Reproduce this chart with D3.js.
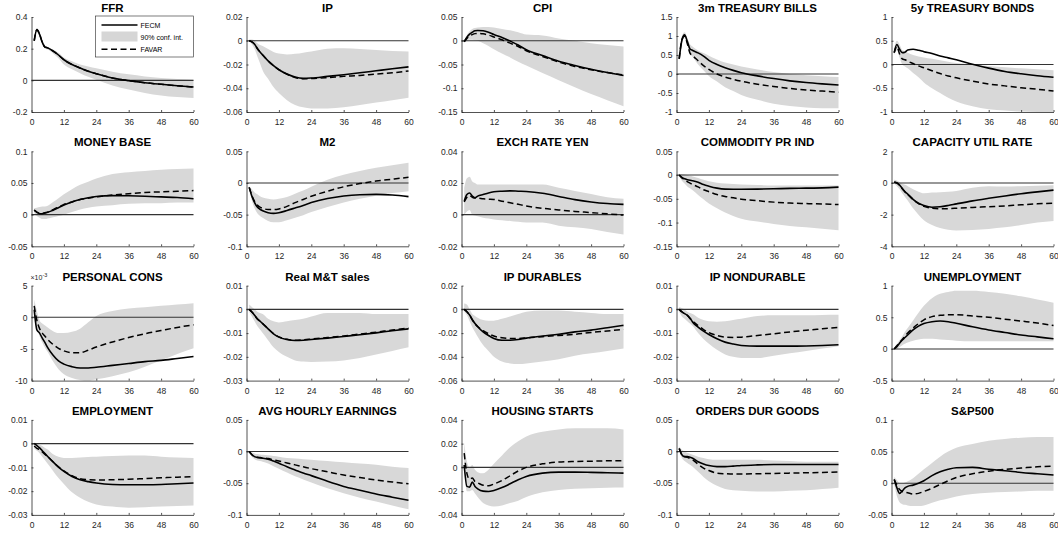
<!DOCTYPE html>
<html>
<head>
<meta charset="utf-8">
<script src="https://cdn.jsdelivr.net/npm/d3@7"></script>
<style>
  body { margin: 0; background: #fff; }
  svg text { font-family: "Liberation Sans", Arial, sans-serif; }
</style>
</head>
<body>
<div id="vis"></div>
<script>
const months = [1, 2, 3, 4, 5, 6, 8, 10, 12, 15, 18, 21, 24, 30, 36, 42, 48, 54, 60];
const xTicks = [0, 12, 24, 36, 48, 60];

const titles = ['FFR', 'IP', 'CPI', '3m TREASURY BILLS', '5y TREASURY BONDS',
    'MONEY BASE', 'M2', 'EXCH RATE YEN', 'COMMODITY PR IND', 'CAPACITY UTIL RATE',
    'PERSONAL CONS', 'Real M&T sales', 'IP DURABLES', 'IP NONDURABLE', 'UNEMPLOYMENT',
    'EMPLOYMENT', 'AVG HOURLY EARNINGS', 'HOUSING STARTS', 'ORDERS DUR GOODS', 'S&P500'];

const yTicks = [
    [-0.2, 0, 0.2, 0.4], [-0.06, -0.04, -0.02, 0, 0.02], [-0.15, -0.1, -0.05, 0, 0.05], [-1, -0.5, 0, 0.5, 1, 1.5], [-1, -0.5, 0, 0.5, 1],
    [-0.05, 0, 0.05, 0.1], [-0.1, -0.05, 0, 0.05], [-0.02, 0, 0.02, 0.04], [-0.15, -0.1, -0.05, 0, 0.05], [-4, -2, 0, 2],
    [-10, -5, 0, 5], [-0.03, -0.02, -0.01, 0, 0.01], [-0.06, -0.04, -0.02, 0, 0.02], [-0.03, -0.02, -0.01, 0, 0.01], [-0.5, 0, 0.5, 1],
    [-0.03, -0.02, -0.01, 0, 0.01], [-0.1, -0.05, 0, 0.05], [-0.04, -0.02, 0, 0.02, 0.04], [-0.1, -0.05, 0, 0.05], [-0.05, 0, 0.05, 0.1]
];

// axis multiplier exponent (PERSONAL CONS is shown in units of 10^-3)
const tickExp = [0, 0, 0, 0, 0, 0, 0, 0, 0, 0, -3, 0, 0, 0, 0, 0, 0, 0, 0, 0];

const fecm = [
    [0.25, 0.32, 0.29, 0.24, 0.21, 0.205, 0.185, 0.16, 0.13, 0.10, 0.078, 0.058, 0.042, 0.015, -0.002, -0.015, -0.025, -0.034, -0.042],
    [0, -0.001, -0.003, -0.0065, -0.0094, -0.012, -0.017, -0.021, -0.0244, -0.028, -0.0306, -0.0317, -0.0314, -0.030, -0.0286, -0.027, -0.0253, -0.0236, -0.022],
    [-0.002, 0.0076, 0.014, 0.018, 0.021, 0.0215, 0.021, 0.018, 0.013, 0.007, -0.0007, -0.009, -0.019, -0.031, -0.043, -0.052, -0.060, -0.067, -0.073],
    [0.40, 0.89, 1.03, 0.86, 0.66, 0.62, 0.555, 0.47, 0.36, 0.25, 0.165, 0.095, 0.035, -0.05, -0.12, -0.18, -0.225, -0.26, -0.29],
    [0.25, 0.42, 0.32, 0.25, 0.26, 0.305, 0.32, 0.30, 0.27, 0.23, 0.18, 0.14, 0.10, 0.007, -0.076, -0.146, -0.195, -0.236, -0.27],
    [0.007, 0.0036, 0.0015, 0.0015, 0.0026, 0.0036, 0.007, 0.011, 0.015, 0.02, 0.024, 0.0267, 0.0287, 0.030, 0.0297, 0.029, 0.028, 0.027, 0.025],
    [-0.007, -0.021, -0.031, -0.038, -0.0415, -0.044, -0.047, -0.048, -0.047, -0.0435, -0.0395, -0.0354, -0.031, -0.0246, -0.0205, -0.0185, -0.018, -0.019, -0.0215],
    [0.0086, 0.0127, 0.0137, 0.0117, 0.0107, 0.0117, 0.0127, 0.0137, 0.0144, 0.0148, 0.015, 0.0148, 0.0146, 0.0135, 0.0115, 0.0095, 0.008, 0.007, 0.0065],
    [0, -0.005, -0.008, -0.0097, -0.011, -0.012, -0.015, -0.020, -0.0235, -0.0276, -0.0297, -0.030, -0.030, -0.0297, -0.029, -0.028, -0.0276, -0.027, -0.0255],
    [0.06, 0, -0.14, -0.35, -0.56, -0.7, -1.03, -1.28, -1.42, -1.53, -1.5, -1.42, -1.32, -1.13, -0.97, -0.82, -0.68, -0.56, -0.45],
    [1.2, -2.0, -2.5, -3.3, -4.0, -4.8, -6.0, -6.9, -7.4, -7.8, -8.0, -8.0, -7.9, -7.6, -7.3, -7.0, -6.8, -6.5, -6.2],
    [0, -0.0011, -0.0025, -0.004, -0.005, -0.006, -0.0082, -0.0103, -0.0117, -0.0127, -0.0131, -0.013, -0.0127, -0.0121, -0.0114, -0.0107, -0.0099, -0.009, -0.0082],
    [0, -0.002, -0.0048, -0.0085, -0.012, -0.0146, -0.019, -0.022, -0.0245, -0.026, -0.026, -0.0254, -0.0242, -0.0225, -0.021, -0.019, -0.0175, -0.0155, -0.0135],
    [0, -0.0011, -0.0018, -0.0025, -0.0037, -0.0054, -0.0075, -0.0092, -0.0106, -0.0124, -0.0138, -0.0146, -0.0152, -0.0155, -0.0155, -0.0155, -0.0154, -0.0152, -0.0149],
    [0, 0.037, 0.09, 0.14, 0.18, 0.22, 0.30, 0.36, 0.40, 0.43, 0.44, 0.43, 0.405, 0.35, 0.30, 0.26, 0.22, 0.19, 0.16],
    [0, -0.0008, -0.0018, -0.003, -0.0042, -0.0054, -0.0077, -0.0099, -0.0117, -0.0138, -0.0152, -0.016, -0.0166, -0.0172, -0.0173, -0.0173, -0.0172, -0.0169, -0.0166],
    [0, -0.005, -0.008, -0.0095, -0.010, -0.0105, -0.012, -0.015, -0.0185, -0.024, -0.029, -0.034, -0.038, -0.047, -0.055, -0.061, -0.067, -0.072, -0.077],
    [0.002, -0.016, -0.0166, -0.0124, -0.016, -0.018, -0.02, -0.0203, -0.0194, -0.017, -0.0138, -0.0104, -0.0076, -0.0048, -0.004, -0.004, -0.0042, -0.0045, -0.0048],
    [0.005, -0.005, -0.008, -0.008, -0.009, -0.0105, -0.016, -0.0195, -0.022, -0.0237, -0.0237, -0.023, -0.022, -0.021, -0.0205, -0.0205, -0.0205, -0.0205, -0.0205],
    [0.006, -0.007, -0.016, -0.012, -0.0075, -0.005, -0.003, 0.0, 0.004, 0.012, 0.018, 0.022, 0.0245, 0.025, 0.022, 0.0197, 0.017, 0.015, 0.013]
];

const favar = [
    [0.25, 0.32, 0.29, 0.24, 0.21, 0.205, 0.185, 0.16, 0.13, 0.10, 0.078, 0.058, 0.042, 0.015, -0.002, -0.015, -0.025, -0.034, -0.042],
    [0, -0.001, -0.003, -0.0065, -0.0094, -0.012, -0.017, -0.021, -0.0244, -0.0282, -0.031, -0.032, -0.0318, -0.031, -0.030, -0.0292, -0.028, -0.027, -0.0255],
    [-0.002, 0.005, 0.010, 0.013, 0.015, 0.0155, 0.0145, 0.012, 0.008, 0.002, -0.005, -0.012, -0.021, -0.033, -0.045, -0.054, -0.061, -0.067, -0.072],
    [0.40, 0.90, 1.0, 0.8, 0.55, 0.48, 0.35, 0.22, 0.12, 0.0, -0.08, -0.14, -0.19, -0.27, -0.33, -0.38, -0.42, -0.45, -0.48],
    [0.25, 0.38, 0.22, 0.12, 0.10, 0.07, 0.02, -0.03, -0.07, -0.13, -0.19, -0.24, -0.28, -0.35, -0.41, -0.45, -0.49, -0.52, -0.56],
    [0.007, 0.004, 0.002, 0.002, 0.003, 0.004, 0.008, 0.012, 0.016, 0.020, 0.024, 0.026, 0.028, 0.031, 0.033, 0.035, 0.036, 0.037, 0.038],
    [-0.007, -0.02, -0.029, -0.035, -0.038, -0.040, -0.042, -0.042, -0.041, -0.037, -0.031, -0.026, -0.021, -0.013, -0.006, -0.001, 0.003, 0.006, 0.009],
    [0.008, 0.011, 0.012, 0.011, 0.0105, 0.0105, 0.010, 0.0098, 0.0096, 0.0085, 0.0075, 0.0065, 0.0055, 0.004, 0.003, 0.002, 0.0013, 0.0005, -0.0003],
    [0, -0.006, -0.010, -0.014, -0.017, -0.020, -0.025, -0.031, -0.035, -0.041, -0.045, -0.048, -0.051, -0.054, -0.057, -0.059, -0.060, -0.061, -0.062],
    [0.05, 0, -0.15, -0.37, -0.56, -0.72, -1.05, -1.3, -1.48, -1.6, -1.63, -1.62, -1.6, -1.55, -1.5, -1.45, -1.38, -1.32, -1.27],
    [1.8, -0.5, -1.8, -2.5, -3.0, -3.5, -4.3, -4.9, -5.3, -5.6, -5.6, -5.2, -4.7, -3.9, -3.2, -2.6, -2.1, -1.6, -1.2],
    [0, -0.0011, -0.0025, -0.004, -0.005, -0.006, -0.0082, -0.0102, -0.0116, -0.0126, -0.013, -0.0128, -0.0125, -0.0119, -0.0112, -0.0104, -0.0096, -0.0087, -0.0079],
    [0, -0.002, -0.005, -0.009, -0.012, -0.0145, -0.018, -0.0205, -0.0225, -0.024, -0.0245, -0.0245, -0.024, -0.023, -0.022, -0.021, -0.0195, -0.0182, -0.017],
    [0, -0.001, -0.0018, -0.0025, -0.0038, -0.005, -0.0068, -0.0085, -0.0098, -0.011, -0.0117, -0.0118, -0.0117, -0.011, -0.0103, -0.0095, -0.0088, -0.0082, -0.0076],
    [0, 0.05, 0.1, 0.15, 0.2, 0.25, 0.33, 0.40, 0.46, 0.51, 0.53, 0.54, 0.54, 0.52, 0.50, 0.47, 0.44, 0.41, 0.37],
    [-0.001, -0.002, -0.0025, -0.0035, -0.0045, -0.0055, -0.0077, -0.0098, -0.0115, -0.0135, -0.0148, -0.0152, -0.0153, -0.0152, -0.015, -0.0147, -0.0144, -0.0141, -0.0139],
    [0, -0.005, -0.008, -0.009, -0.0095, -0.010, -0.011, -0.013, -0.015, -0.018, -0.021, -0.024, -0.027, -0.032, -0.037, -0.041, -0.045, -0.048, -0.051],
    [0.012, -0.005, -0.01, -0.009, -0.012, -0.013, -0.015, -0.0155, -0.014, -0.011, -0.007, -0.003, 0.0, 0.003, 0.0045, 0.005, 0.0052, 0.0055, 0.0055],
    [0.005, -0.005, -0.008, -0.009, -0.011, -0.013, -0.02, -0.026, -0.03, -0.034, -0.035, -0.0355, -0.0355, -0.035, -0.0345, -0.034, -0.0335, -0.033, -0.032],
    [0.006, -0.003, -0.01, -0.013, -0.014, -0.015, -0.017, -0.016, -0.013, -0.008, -0.002, 0.004, 0.009, 0.015, 0.019, 0.022, 0.024, 0.026, 0.027]
];

const bandHigh = [
    [0.26, 0.33, 0.30, 0.25, 0.22, 0.21, 0.195, 0.175, 0.145, 0.12, 0.10, 0.088, 0.076, 0.055, 0.038, 0.025, 0.015, 0.008, 0.004],
    [0.001, 0.001, 0.0, -0.002, -0.0035, -0.0045, -0.007, -0.0094, -0.0108, -0.0115, -0.011, -0.010, -0.009, -0.0067, -0.0064, -0.007, -0.0078, -0.0086, -0.009],
    [0.0, 0.012, 0.02, 0.025, 0.027, 0.028, 0.029, 0.029, 0.028, 0.025, 0.022, 0.018, 0.013, 0.011, 0.005, 0.0, -0.005, -0.009, -0.012],
    [0.45, 1.0, 1.1, 0.95, 0.78, 0.72, 0.62, 0.55, 0.48, 0.38, 0.3, 0.25, 0.2, 0.12, 0.05, 0.0, -0.03, -0.06, -0.08],
    [0.35, 0.5, 0.42, 0.3, 0.28, 0.25, 0.2, 0.17, 0.15, 0.12, 0.09, 0.06, 0.03, 0.0, -0.03, -0.06, -0.08, -0.1, -0.12],
    [0.01, 0.011, 0.012, 0.013, 0.013, 0.014, 0.02, 0.026, 0.032, 0.040, 0.047, 0.052, 0.057, 0.064, 0.067, 0.069, 0.071, 0.072, 0.073],
    [-0.005, -0.01, -0.015, -0.018, -0.021, -0.023, -0.025, -0.026, -0.025, -0.022, -0.017, -0.012, -0.006, 0.005, 0.013, 0.019, 0.024, 0.028, 0.032],
    [0.017, 0.023, 0.024, 0.021, 0.020, 0.019, 0.019, 0.019, 0.019, 0.019, 0.019, 0.019, 0.019, 0.019, 0.017, 0.015, 0.013, 0.011, 0.010],
    [0.003, 0.002, 0.001, 0.0, -0.0015, -0.003, -0.006, -0.010, -0.013, -0.016, -0.018, -0.019, -0.02, -0.021, -0.022, -0.022, -0.022, -0.022, -0.022],
    [0.2, 0.15, 0.05, -0.05, -0.12, -0.2, -0.4, -0.55, -0.65, -0.6, -0.58, -0.55, -0.5, -0.3, -0.2, -0.22, -0.2, -0.17, -0.15],
    [2.8, 1.0, -0.5, -1.0, -1.3, -1.6, -2.2, -2.5, -2.5, -2.3, -1.8, -0.8, 0.2, 1.0, 1.4, 1.6, 1.8, 2.0, 2.2],
    [0.002, 0.001, 0.0, -0.001, -0.0015, -0.002, -0.004, -0.005, -0.0055, -0.005, -0.0045, -0.004, -0.003, -0.0015, -0.0015, -0.0015, -0.002, -0.002, -0.002],
    [0.005, 0.004, 0.0, -0.004, -0.0055, -0.007, -0.009, -0.0095, -0.0095, -0.008, -0.006, -0.004, -0.002, -0.001, -0.001, -0.002, -0.003, -0.004, -0.004],
    [0.001, 0.0005, 0.0, -0.001, -0.0015, -0.002, -0.0035, -0.0045, -0.005, -0.0052, -0.005, -0.0045, -0.004, -0.0028, -0.0025, -0.0025, -0.0025, -0.0024, -0.0023],
    [0.02, 0.08, 0.14, 0.2, 0.27, 0.33, 0.45, 0.57, 0.68, 0.8, 0.87, 0.9, 0.92, 0.92, 0.9, 0.87, 0.83, 0.78, 0.73],
    [0.0005, 0.0, -0.0005, -0.001, -0.0018, -0.0025, -0.0045, -0.0055, -0.006, -0.006, -0.0058, -0.0056, -0.0055, -0.0052, -0.005, -0.005, -0.0055, -0.0058, -0.006],
    [0.001, -0.001, -0.003, -0.004, -0.0045, -0.005, -0.006, -0.007, -0.008, -0.010, -0.011, -0.012, -0.013, -0.015, -0.017, -0.019, -0.021, -0.024, -0.026],
    [0.021, 0.005, 0.0, 0.002, -0.002, -0.004, -0.005, -0.002, 0.003, 0.01, 0.017, 0.022, 0.026, 0.03, 0.032, 0.033, 0.033, 0.033, 0.032],
    [0.008, 0.003, 0.0, -0.002, -0.0035, -0.005, -0.008, -0.01, -0.012, -0.013, -0.013, -0.013, -0.013, -0.013, -0.014, -0.015, -0.016, -0.016, -0.016],
    [0.01, 0.005, 0.0, 0.0, 0.001, 0.003, 0.008, 0.015, 0.022, 0.032, 0.042, 0.05, 0.056, 0.062, 0.067, 0.07, 0.072, 0.073, 0.073]
];

const bandLow = [
    [0.24, 0.31, 0.28, 0.23, 0.20, 0.195, 0.17, 0.14, 0.10, 0.07, 0.045, 0.022, 0.004, -0.032, -0.058, -0.08, -0.096, -0.106, -0.112],
    [0, -0.003, -0.007, -0.013, -0.019, -0.025, -0.032, -0.039, -0.044, -0.05, -0.054, -0.056, -0.057, -0.057, -0.056, -0.054, -0.052, -0.050, -0.048],
    [-0.003, 0.0, 0.002, 0.002, 0.001, 0.0, -0.005, -0.011, -0.018, -0.027, -0.035, -0.044, -0.052, -0.068, -0.083, -0.098, -0.112, -0.125, -0.138],
    [0.35, 0.8, 0.95, 0.75, 0.52, 0.45, 0.25, 0.1, -0.05, -0.2, -0.35, -0.45, -0.55, -0.68, -0.78, -0.84, -0.88, -0.9, -0.9],
    [0.2, 0.3, 0.15, 0.0, -0.04, -0.08, -0.18, -0.27, -0.38, -0.5, -0.6, -0.7, -0.78, -0.88, -0.94, -0.97, -0.99, -1.0, -1.0],
    [0.003, -0.002, -0.005, -0.007, -0.007, -0.006, -0.004, -0.002, 0.0, 0.004, 0.008, 0.011, 0.013, 0.015, 0.017, 0.018, 0.018, 0.019, 0.019],
    [-0.008, -0.028, -0.04, -0.048, -0.052, -0.055, -0.06, -0.062, -0.062, -0.059, -0.055, -0.051, -0.046, -0.038, -0.031, -0.025, -0.02, -0.016, -0.013],
    [0.0, 0.002, 0.003, 0.0, -0.0005, -0.001, -0.002, -0.0025, -0.003, -0.0035, -0.004, -0.0045, -0.005, -0.005, -0.007, -0.008, -0.009, -0.011, -0.0125],
    [-0.003, -0.012, -0.018, -0.024, -0.028, -0.032, -0.042, -0.051, -0.060, -0.070, -0.079, -0.086, -0.092, -0.098, -0.103, -0.107, -0.110, -0.113, -0.116],
    [-0.05, -0.2, -0.4, -0.65, -0.88, -1.1, -1.6, -2.0, -2.35, -2.65, -2.85, -2.95, -3.0, -2.97, -2.9, -2.8, -2.65, -2.5, -2.4],
    [0.5, -1.5, -3.0, -4.0, -4.8, -5.5, -7.0, -8.2, -9.0, -9.6, -9.9, -10.0, -9.8, -9.3, -8.7, -7.8, -6.8, -5.8, -4.9],
    [-0.001, -0.003, -0.005, -0.007, -0.0085, -0.010, -0.013, -0.016, -0.018, -0.020, -0.0215, -0.022, -0.0222, -0.022, -0.0215, -0.0205, -0.019, -0.0175, -0.016],
    [-0.002, -0.005, -0.01, -0.015, -0.019, -0.023, -0.03, -0.035, -0.04, -0.044, -0.0455, -0.046, -0.0455, -0.044, -0.042, -0.039, -0.037, -0.035, -0.033],
    [-0.001, -0.003, -0.004, -0.005, -0.006, -0.007, -0.01, -0.0125, -0.0145, -0.017, -0.019, -0.020, -0.0205, -0.0205, -0.0195, -0.0185, -0.0175, -0.0165, -0.0155],
    [-0.01, 0.0, 0.03, 0.06, 0.08, 0.1, 0.13, 0.15, 0.16, 0.16, 0.15, 0.14, 0.13, 0.12, 0.12, 0.12, 0.12, 0.12, 0.12],
    [-0.002, -0.003, -0.004, -0.0055, -0.007, -0.0085, -0.0115, -0.0145, -0.017, -0.0205, -0.0228, -0.0245, -0.0256, -0.0265, -0.027, -0.0268, -0.0265, -0.0262, -0.026],
    [-0.001, -0.008, -0.012, -0.014, -0.015, -0.016, -0.019, -0.023, -0.027, -0.033, -0.039, -0.044, -0.049, -0.058, -0.066, -0.073, -0.079, -0.085, -0.091],
    [0.0, -0.02, -0.02, -0.019, -0.022, -0.025, -0.03, -0.032, -0.033, -0.032, -0.03, -0.028, -0.025, -0.021, -0.019, -0.018, -0.0175, -0.0172, -0.017],
    [0.0, -0.01, -0.015, -0.018, -0.021, -0.024, -0.032, -0.04, -0.047, -0.054, -0.059, -0.061, -0.062, -0.063, -0.063, -0.062, -0.061, -0.059, -0.057],
    [-0.002, -0.02, -0.03, -0.033, -0.034, -0.035, -0.036, -0.036, -0.035, -0.031, -0.027, -0.024, -0.021, -0.017, -0.015, -0.014, -0.013, -0.012, -0.012]
];

const legendItems = ['FECM', '90% conf. int.', 'FAVAR'];

// Layout (MATLAB-like 4x5 subplot grid)
const W = 1058, H = 536;
const pw = 162, ph = 95;
const colStep = 215, rowStep = 134.3;
const left0 = 31.5, top0 = 17;
const axisColor = '#262626';

const svg = d3.select('#vis')
    .append('svg')
    .attr('width', W)
    .attr('height', H);

// striped grey fill for the confidence band
const pat = svg.append('defs').append('pattern')
    .attr('id', 'bandFill')
    .attr('patternUnits', 'userSpaceOnUse')
    .attr('width', 2).attr('height', 4);
pat.append('rect').attr('width', 2).attr('height', 4).attr('fill', '#d2d2d2');
pat.append('rect').attr('width', 0.8).attr('height', 4).attr('fill', '#e0e0e0');

const xScale = d3.scaleLinear().domain([0, 60]).range([0, pw]);
const fmt = d => String(+d.toFixed(4));

titles.forEach((title, i) => {
    const col = i % 5, row = Math.floor(i / 5);
    const g = svg.append('g')
        .attr('transform', `translate(${left0 + col * colStep},${top0 + row * rowStep})`);

    const ticks = yTicks[i];
    const yScale = d3.scaleLinear()
        .domain([ticks[0], ticks[ticks.length - 1]])
        .range([ph, 0]);

    const pts = months.map((m, j) => ({
        m: m, lo: bandLow[i][j], hi: bandHigh[i][j], a: fecm[i][j], b: favar[i][j]
    }));

    // confidence band
    g.append('path')
        .datum(pts)
        .attr('fill', 'url(#bandFill)')
        .attr('d', d3.area()
            .x(d => xScale(d.m))
            .y0(d => yScale(d.lo))
            .y1(d => yScale(d.hi))
            .curve(d3.curveMonotoneX));

    // zero line
    g.append('line')
        .attr('x1', xScale(0)).attr('x2', xScale(60))
        .attr('y1', yScale(0)).attr('y2', yScale(0))
        .attr('stroke', '#333').attr('stroke-width', 1.1);

    // FAVAR (dashed) then FECM (solid)
    g.append('path')
        .datum(pts)
        .attr('fill', 'none')
        .attr('stroke', '#000')
        .attr('stroke-width', 1.5)
        .attr('stroke-dasharray', '6,3.5')
        .attr('d', d3.line().x(d => xScale(d.m)).y(d => yScale(d.b)).curve(d3.curveMonotoneX));

    g.append('path')
        .datum(pts)
        .attr('fill', 'none')
        .attr('stroke', '#000')
        .attr('stroke-width', 1.6)
        .attr('d', d3.line().x(d => xScale(d.m)).y(d => yScale(d.a)).curve(d3.curveMonotoneX));

    // axes: left and bottom only, ticks pointing inward
    const xa = g.append('g')
        .attr('transform', `translate(0,${ph})`)
        .call(d3.axisBottom(xScale).tickValues(xTicks).tickSize(-2).tickSizeOuter(0).tickPadding(7).tickFormat(fmt));
    const ya = g.append('g')
        .call(d3.axisLeft(yScale).tickValues(ticks).tickSize(-2).tickSizeOuter(0).tickPadding(4).tickFormat(fmt));

    [xa, ya].forEach(a => {
        a.attr('font-size', 8.5).attr('font-family', null);
        a.select('.domain').attr('stroke', axisColor).attr('stroke-width', 0.8);
        a.selectAll('.tick line').attr('stroke', axisColor).attr('stroke-width', 0.8);
        a.selectAll('.tick text').attr('fill', axisColor);
    });

    // title
    g.append('text')
        .attr('x', pw / 2)
        .attr('y', -5)
        .attr('text-anchor', 'middle')
        .attr('font-weight', 'bold')
        .attr('font-size', 11.5)
        .attr('fill', '#000')
        .text(title);

    // exponent label
    if (tickExp[i] !== 0) {
        const ex = g.append('text')
            .attr('x', -1)
            .attr('y', -6)
            .attr('font-size', 7)
            .attr('fill', axisColor);
        ex.append('tspan').text('\u00d710');
        ex.append('tspan').attr('dy', -3).attr('font-size', 5.5).text(String(tickExp[i]));
    }

    // legend in the first panel
    if (i === 0) {
        const lg = g.append('g').attr('transform', `translate(${pw - 98},-1)`);
        lg.append('rect')
            .attr('width', 98).attr('height', 41)
            .attr('fill', '#fff')
            .attr('stroke', axisColor).attr('stroke-width', 0.6);
        lg.append('line')
            .attr('x1', 6).attr('x2', 42).attr('y1', 9).attr('y2', 9)
            .attr('stroke', '#000').attr('stroke-width', 1.6);
        lg.append('rect')
            .attr('x', 6).attr('y', 15.5).attr('width', 36).attr('height', 10)
            .attr('fill', '#d6d6d6');
        lg.append('line')
            .attr('x1', 6).attr('x2', 42).attr('y1', 33.3).attr('y2', 33.3)
            .attr('stroke', '#000').attr('stroke-width', 1.5).attr('stroke-dasharray', '6,3.5');
        lg.selectAll('.legendText')
            .data(legendItems)
            .enter()
            .append('text')
            .attr('class', 'legendText')
            .attr('x', 45)
            .attr('y', (d, k) => 11.5 + k * 12.2)
            .attr('font-size', 7)
            .attr('fill', '#000')
            .text(d => d);
    }
});
</script>
</body>
</html>
